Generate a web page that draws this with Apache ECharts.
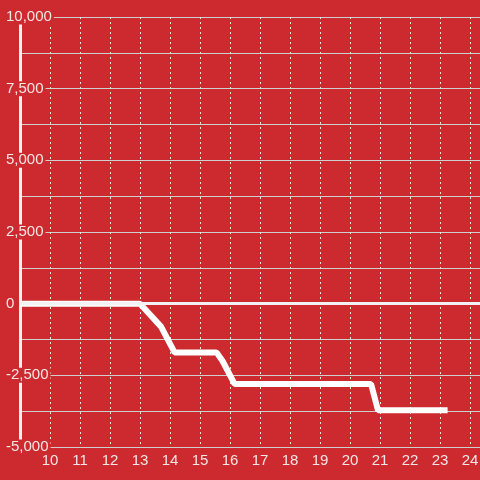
<!DOCTYPE html>
<html>
<head>
<meta charset="utf-8">
<script src="https://cdn.jsdelivr.net/npm/echarts@6/dist/echarts.min.js"></script>
<style>
  html, body { margin: 0; padding: 0; background: #cc2a2f; }
  #main { width: 480px; height: 480px; }
</style>
</head>
<body>
<div id="main"></div>
<script>
// line points
const xValues = [9, 13, 13.7, 14.15, 15.55, 15.75, 16.15, 20.7, 20.93, 23.25];
const yValues = [0, 0, -800, -1700, -1700, -2000, -2800, -2800, -3720, -3720];

const xMin = 9, xMax = 24.33;
const yMin = -5000, yMax = 10000;
const yLabelStep = 2500;

const bg = '#cc2a2f';
const labelColor = '#f2e6e6';

const chart = echarts.init(document.getElementById('main'));

chart.setOption({
    backgroundColor: bg,
    animation: false,
    grid: { left: 20, right: 0, top: 17, bottom: 33, outerBoundsMode: 'none' },
    xAxis: {
        type: 'value',
        min: xMin,
        max: xMax,
        interval: 1,
        axisLine: { show: false, onZero: false },
        axisTick: { show: false },
        axisLabel: {
            color: labelColor,
            fontSize: 15,
            margin: 6,
            showMinLabel: false,
            showMaxLabel: false
        },
        splitLine: {
            show: true,
            lineStyle: { color: '#e6e6e6', width: 1, type: [2, 3] }
        }
    },
    yAxis: {
        type: 'value',
        min: yMin,
        max: yMax,
        interval: 1250,
        axisLine: { show: true, lineStyle: { color: '#f2f2f2', width: 3 } },
        axisTick: { show: false },
        axisLabel: {
            color: labelColor,
            fontSize: 15,
            align: 'left',
            margin: 14,
            backgroundColor: bg,
            padding: [0, 2, 0, 0],
            formatter: v => (v % yLabelStep === 0 ? v.toLocaleString('en-US') : '')
        },
        splitLine: {
            show: true,
            lineStyle: { color: '#cfcfcf', width: 1 }
        }
    },
    series: [
        {
            type: 'line',
            data: xValues.map((x, i) => [x, yValues[i]]),
            showSymbol: false,
            lineStyle: { color: '#ffffff', width: 6 },
            markLine: {
                silent: true,
                symbol: 'none',
                label: { show: false },
                lineStyle: { color: '#f2f2f2', width: 3, type: 'solid' },
                data: [{ yAxis: 0 }]
            }
        }
    ]
});
</script>
</body>
</html>
